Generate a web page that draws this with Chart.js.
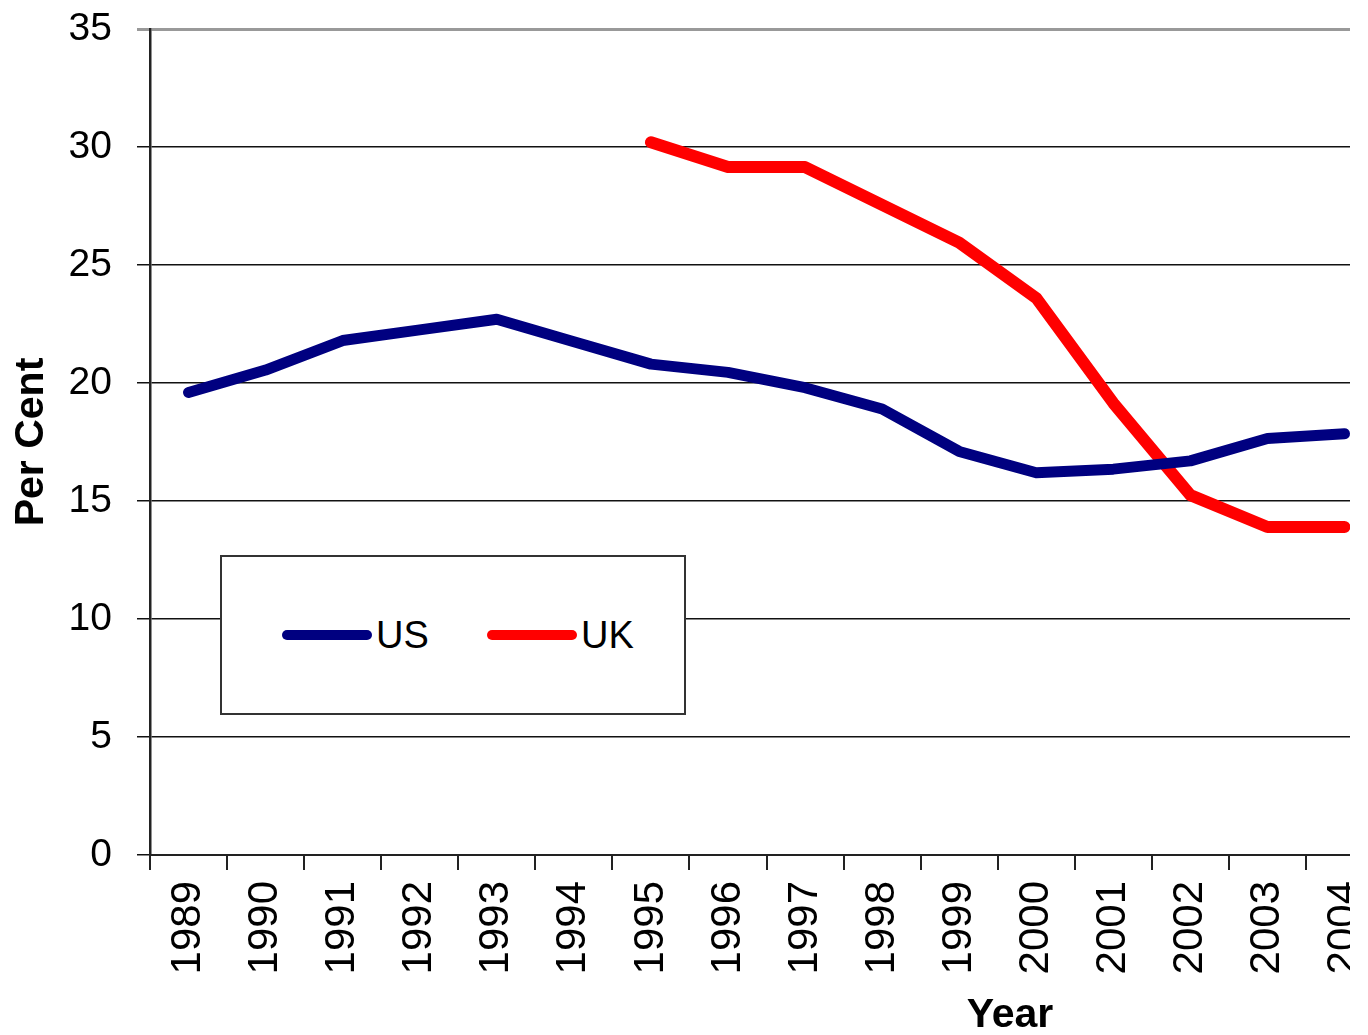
<!DOCTYPE html>
<html>
<head>
<meta charset="utf-8">
<script src="https://cdn.jsdelivr.net/npm/chart.js@4/dist/chart.umd.min.js"></script>
<style>
  html, body { margin: 0; padding: 0; background: #fff; }
  #wrap { position: relative; width: 1350px; height: 1035px; overflow: hidden; }
  #wrap canvas { position: absolute; left: 0; top: 0; }
  #legendBox {
    position: absolute; left: 220px; top: 555px; width: 462px; height: 156px;
    border: 2px solid #333; background: #fff;
    font-family: "Liberation Sans", Arial, sans-serif; font-size: 38px; color: #000;
  }
  .item { position: absolute; top: 56px; height: 44px; line-height: 44px; }
  .swatch { position: absolute; top: 17px; width: 90px; height: 10px; border-radius: 5px; }
  .item span { position: absolute; left: 94px; top: 0; }
  #yearTitle {
    position: absolute; left: 940px; top: 990px; width: 140px; text-align: center;
    font-family: "Liberation Sans", Arial, sans-serif; font-weight: bold; font-size: 41px; color: #000;
  }
</style>
</head>
<body>
<div id="wrap">
  <canvas id="perCentChart" width="1406" height="1035"></canvas>
  <div id="legendBox">
    <div class="item" style="left:60px"><div class="swatch" style="background:#000080"></div><span>US</span></div>
    <div class="item" style="left:265px"><div class="swatch" style="background:#ff0000"></div><span>UK</span></div>
  </div>
  <div id="yearTitle">Year</div>
</div>
<script>
// data
const years = ['1989','1990','1991','1992','1993','1994','1995','1996',
               '1997','1998','1999','2000','2001','2002','2003','2004'];
const usValues = [19.6, 20.55, 21.8, 22.25, 22.7, 21.75, 20.8, 20.45,
                  19.8, 18.9, 17.1, 16.2, 16.35, 16.7, 17.65, 17.85];
const ukValues = [null, null, null, null, null, null, 30.2, 29.15,
                  29.15, 27.55, 25.95, 23.6, 19.15, 15.25, 13.9, 13.9];
const yTicks = [0, 5, 10, 15, 20, 25, 30, 35];

const font = "'Liberation Sans', Arial, sans-serif";

function makeSet(label, values, color, width) {
	return {
		label: label,
		data: values,
		borderColor: color,
		backgroundColor: color,
		borderWidth: width,
		pointRadius: 0,
		tension: 0,
		borderJoinStyle: 'round',
		borderCapStyle: 'round',
		spanGaps: false
	};
}

const ctx = document.getElementById('perCentChart').getContext('2d');
const chart = new Chart(ctx, {
	type: 'line',
	data: {
		labels: years,
		datasets: [makeSet('US', usValues, '#000080', 11), makeSet('UK', ukValues, '#ff0000', 12)]
	},
	options: {
		responsive: false,
		animation: false,
		layout: { padding: { top: 29, right: 3, bottom: 0, left: 0 } },
		plugins: { legend: { display: false }, tooltip: { enabled: false } },
		scales: {
			x: {
				offset: true,
				grid: { offset: true, drawOnChartArea: false, tickLength: 15, color: '#222', lineWidth: 2 },
				border: { color: '#222', width: 2 },
				ticks: {
					color: '#000', font: { family: font, size: 42 },
					maxRotation: 90, minRotation: 90, padding: 11, autoSkip: false
				},
				afterFit: s => { s.height = 1035 - 855; }
			},
			y: {
				min: 0, max: 35,
				afterBuildTicks: s => { s.ticks = yTicks.map(v => ({ value: v })); },
				grid: {
					tickLength: 13,
					color: c => c.tick && c.tick.value === 35 ? '#999' : '#111',
					lineWidth: c => c.tick && c.tick.value === 35 ? 3 : 1.5
				},
				border: { color: '#222', width: 2.5 },
				ticks: { color: '#000', font: { family: font, size: 39 }, padding: 25 },
				title: {
					display: true, text: 'Per Cent', color: '#000',
					font: { family: font, size: 41, weight: 'bold' },
					padding: { top: 7, bottom: 0 }
				},
				// fixed width, and no extra room above the top tick label
				afterFit: s => { s.width = 150; s.paddingTop = 0; s.paddingBottom = 0; }
			}
		}
	}
});
</script>
</body>
</html>
